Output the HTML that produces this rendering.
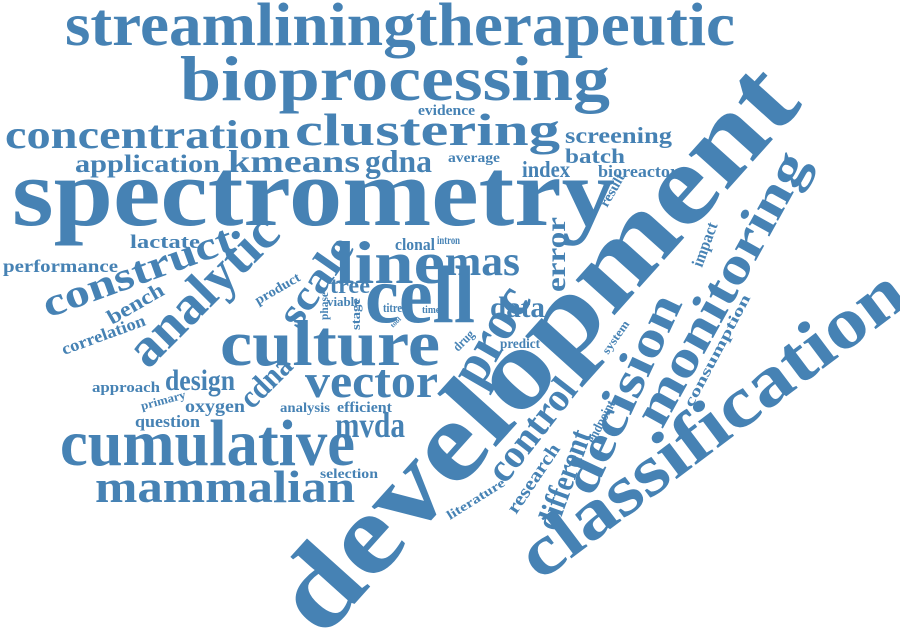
<!DOCTYPE html>
<html><head><meta charset="utf-8"><style>
html,body{margin:0;padding:0;background:#fff;}
svg{display:block;}
text{font-family:"Liberation Serif",serif;font-weight:bold;fill:#4682b4;}
</style></head><body>
<svg id="cloud" width="900" height="637" viewBox="0 0 900 637"></svg>
<script>
const words=["streamliningtherapeutic","bioprocessing","concentration","clustering","screening","evidence","application","kmeans","gdna","average","batch","index","bioreactor","spectrometry","development","classification","monitoring","decision","culture","cell","line","mas","data","error","proc","scale","analytic","construct","lactate","performance","bench","correlation","product","tree","clonal","intron","phase","viable","stage","titre","tool","time","drug","predict","system","result","impact","consumption","design","approach","primary","cdna","vector","oxygen","analysis","efficient","mvda","question","cumulative","mammalian","selection","control","literature","research","different","endpoint"];
const weights=[61,63,40,46,23,15,25,32,32,14,21,23,17,96,114,72,52,50,65,82,60,42,30,27,56,42,54,40,19,18,21,17,14,23,17,12,12,13,13,13,7,10,13,14,12,14,17,15,30,15,12,32,48,18,14,15,36,17,66,46,14,40,13,19,32,14];
const place=[[65,45,0,670],[180,100,0,430],[5,148,0,285],[295,145,0,265],[565,143,0,107],[418,115,0,57],[75,172,0,145],[228,172,0,132],[365,172,0,67],[448,162,0,52],[565,163,0,60],[522,177,0,48],[598,177,0,80],[12,225,0,603],[322,640,-48,720],[540,582,-37,465],[662,430,-61,305],[592,498,-65,215],[220,365,0,220],[365,322,0,110],[335,283,0,110],[445,275,0,75],[490,317,0,55],[565,292,-90,75],[480,390,-60,105],[298,330,-55,100],[148,370,-45,190],[48,318,-20,200],[130,248,0,70],[3,272,0,115],[112,325,-30,62],[64,355,-20,88],[258,305,-30,50],[330,293,0,40],[395,250,0,40],[437,244,0,23],[328,320,-90,28],[327,306,0,33],[360,330,-90,32],[383,312,0,19],[393,328,-45,12],[422,313,0,18],[458,352,-45,24],[500,348,0,40],[608,355,-55,38],[607,208,-60,36],[702,268,-70,46],[692,408,-62,125],[165,390,0,70],[92,392,0,68],[142,410,-15,46],[252,410,-45,60],[305,397,0,133],[185,412,0,60],[280,412,0,50],[337,412,0,55],[335,437,0,70],[135,427,0,65],[60,465,0,295],[95,502,0,260],[320,478,0,58],[505,485,-52,120],[450,520,-32,66],[516,515,-56,80],[556,532,-70,104],[594,444,-62,46]];
const svg=document.getElementById('cloud');
words.forEach((w,i)=>{
  const p=place[i];
  const t=document.createElementNS('http://www.w3.org/2000/svg','text');
  t.setAttribute('x',p[0]);t.setAttribute('y',p[1]);
  t.setAttribute('font-size',weights[i]);
  t.setAttribute('textLength',p[3]);
  t.setAttribute('lengthAdjust','spacingAndGlyphs');
  if(p[2])t.setAttribute('transform','rotate('+p[2]+' '+p[0]+' '+p[1]+')');
  t.textContent=w;
  
  
  svg.appendChild(t);
});
</script>
</body></html>
